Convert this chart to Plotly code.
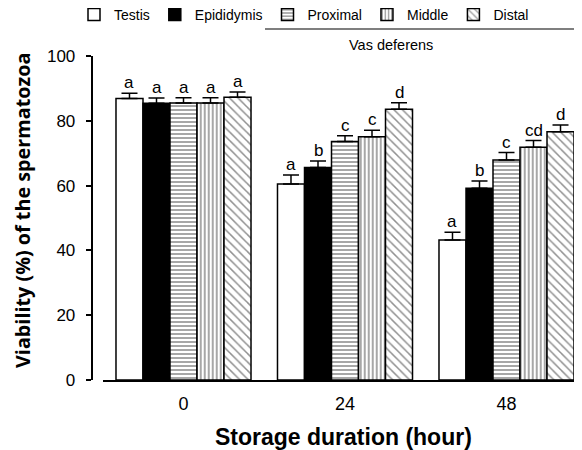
import plotly.graph_objects as go

hours = ["0", "24", "48"]
series = ["Testis", "Epididymis", "Proximal", "Middle", "Distal"]
viability = {
    "Testis":     [86.9, 60.5, 43.2],
    "Epididymis": [85.4, 65.6, 59.2],
    "Proximal":   [85.5, 73.6, 67.9],
    "Middle":     [85.5, 75.1, 71.8],
    "Distal":     [87.3, 83.6, 76.6],
}
sem = {
    "Testis":     [1.6, 2.8, 2.4],
    "Epididymis": [1.6, 2.0, 2.2],
    "Proximal":   [1.6, 1.8, 2.3],
    "Middle":     [1.6, 2.0, 2.1],
    "Distal":     [1.6, 2.0, 2.1],
}
letters = {
    "Testis":     ["a", "a", "a"],
    "Epididymis": ["a", "b", "b"],
    "Proximal":   ["a", "c", "c"],
    "Middle":     ["a", "c", "cd"],
    "Distal":     ["a", "d", "d"],
}

FONT = "Liberation Sans, Arial, sans-serif"
W, H = 582, 450
OFF = 8  # page body margin offset
ML, MR, MT, MB = 0, 0, 56 - OFF, H - (380 - OFF)
x_start_px = 102.75 - OFF
yaxis_px = 91.7 - OFF
px_per_cat = 161.5
bargap = 0.164
nser = len(series)
barw = (1 - bargap) / nser
plot_h = H - MT - MB

def py(page_y):
    return ((380 - OFF) - (page_y - OFF)) / plot_h

def px(page_x):
    return (page_x - OFF) / W

styles = {
    "Testis": dict(color="white"),
    "Epididymis": dict(color="black"),
    "Proximal": dict(color="white", pattern=dict(shape="-", fgcolor="#222", bgcolor="white", size=4, solidity=0.4)),
    "Middle": dict(color="white", pattern=dict(shape="|", fgcolor="#222", bgcolor="white", size=4, solidity=0.4)),
    "Distal": dict(color="white", pattern=dict(shape="\\", fgcolor="#222", bgcolor="white", size=6, solidity=0.25)),
}

xs = list(range(len(hours)))
fig = go.Figure()
for s in series:
    m = dict(styles[s])
    m["line"] = dict(color="black", width=1.5)
    fig.add_trace(go.Bar(
        x=xs, y=viability[s], name=s, marker=m,
        error_y=dict(type="data", symmetric=False, array=sem[s],
                     arrayminus=[0] * len(hours), color="black",
                     thickness=1.5, width=8),
    ))

annotations = []
for j, s in enumerate(series):
    for i in xs:
        annotations.append(dict(
            x=i + (j - (nser - 1) / 2) * barw, y=viability[s][i] + sem[s][i],
            xref="x", yref="y", text=letters[s][i], showarrow=False,
            xanchor="center", yanchor="bottom", yshift=-1,
            font=dict(family=FONT, size=17, color="black"),
        ))

annotations.append(dict(
    x=px(22), y=py(211), xref="paper", yref="paper", xanchor="center", yanchor="middle",
    text="<b>Viability (%) of the spermatozoa</b>", textangle=-90,
    showarrow=False, font=dict(family="Open Sans, sans-serif", size=19.8, color="black"),
))
annotations.append(dict(
    x=px(344), y=py(437), xref="paper", yref="paper", xanchor="center", yanchor="middle",
    text="<b>Storage duration (hour)</b>", showarrow=False,
    font=dict(family=FONT, size=23, color="black"),
))
annotations.append(dict(
    x=px(391), y=py(45), xref="paper", yref="paper", xanchor="center", yanchor="middle",
    text="Vas deferens", showarrow=False,
    font=dict(family=FONT, size=14.5, color="black"),
))

fig.update_layout(
    width=W, height=H,
    margin=dict(l=ML, r=MR, t=MT, b=MB, autoexpand=False),
    plot_bgcolor="white", paper_bgcolor="white",
    barmode="group", bargap=bargap, bargroupgap=0,
    font=dict(family=FONT, size=17, color="black"),
    showlegend=True,
    legend=dict(orientation="h", x=px(74), y=py(15),
                xanchor="left", yanchor="middle", traceorder="normal",
                font=dict(family=FONT, size=14, color="black"),
                itemwidth=30, tracegroupgap=0, bgcolor="rgba(0,0,0,0)"),
    xaxis=dict(domain=[x_start_px / W, 1],
               range=[-0.5, -0.5 + (W - x_start_px) / px_per_cat],
               tickvals=xs, ticktext=hours, showline=True, linecolor="black", linewidth=2,
               ticks="", showgrid=False, zeroline=False, ticklabelstandoff=6,
               automargin=False,
               tickfont=dict(family=FONT, size=18, color="black")),
    yaxis=dict(range=[0, 100], anchor="free", position=yaxis_px / W,
               tickvals=[0, 20, 40, 60, 80, 100], showline=True, linecolor="black", linewidth=2,
               ticks="outside", ticklen=5, tickwidth=2, tickcolor="black",
               showgrid=False, zeroline=False, ticklabelstandoff=7, automargin=False,
               tickfont=dict(family=FONT, size=17, color="black")),
    annotations=annotations,
    shapes=[dict(type="line", xref="paper", yref="paper", x0=px(265), x1=1,
                 y0=py(29), y1=py(29),
                 line=dict(color="black", width=1.2))],
)

fig.write_html("out.html")
